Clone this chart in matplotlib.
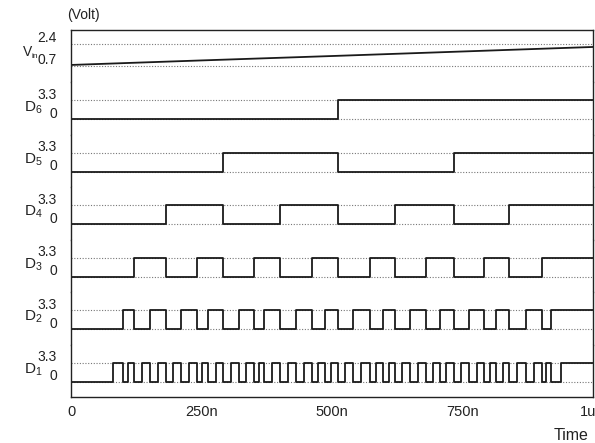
import numpy as np
import matplotlib
matplotlib.use('Agg')
import matplotlib.pyplot as plt
from matplotlib.transforms import ScaledTranslation

plt.rcParams['font.family'] = ['Liberation Sans', 'DejaVu Sans']
plt.rcParams['mathtext.fontset'] = 'custom'
plt.rcParams['mathtext.rm'] = 'Liberation Sans'
plt.rcParams['mathtext.it'] = 'Liberation Sans:italic'

# ramp input (time in ns, volts)
vin_t = [0, 250, 500, 750, 1000]
vin_v = [0.78, 1.13, 1.47, 1.82, 2.17]

# switching instants (ns) of each output bit
d6_edges = [511]
d5_edges = [292, 511, 733]
d4_edges = [182, 292, 400, 511, 621, 733, 840]
d3_edges = [121, 182, 241, 292, 351, 400, 462, 511, 573, 621, 680, 733,
            791, 840, 902]
d2_edges = [100, 121, 151, 182, 211, 241, 262, 292, 321, 351, 370, 400,
            431, 462, 486, 511, 540, 573, 597, 621, 650, 680, 706, 733,
            763, 791, 815, 840, 871, 902, 920]
d1_edges = [80, 100, 110, 121, 136, 151, 166, 182, 196, 211,
            226, 241, 251, 262, 277, 292, 306, 321, 336, 351,
            360, 370, 386, 400, 416, 431, 446, 462, 474, 486,
            498, 511, 525, 540, 556, 573, 585, 597, 609, 621,
            635, 650, 665, 680, 693, 706, 719, 733, 748, 763,
            777, 791, 803, 815, 827, 840, 855, 871, 887, 902,
            910, 920, 938]

row_names = [r'$\mathrm{D}_6$', r'$\mathrm{D}_5$', r'$\mathrm{D}_4$',
             r'$\mathrm{D}_3$', r'$\mathrm{D}_2$', r'$\mathrm{D}_1$']
digital = [d6_edges, d5_edges, d4_edges, d3_edges, d2_edges, d1_edges]

x_ticks = [0, 250, 500, 750, 1000]
x_labels = ['0', '250n', '500n', '750n', '1u']
HIGH = 3.3


def square(edges, hi=HIGH, t_end=1000):
    """Turn a list of toggle instants into a step trace starting low"""
    t, v = [0], [0]
    level = 0
    for e in edges:
        new = hi - level
        t += [e, e]
        v += [level, new]
        level = new
    t.append(t_end)
    v.append(level)
    return t, v


W, H = 595, 443
left, right = 71, 593
top, bottom = 30, 397
row_h = (bottom - top) / 7

fig = plt.figure(figsize=(W / 100, H / 100), dpi=100)
line_kw = dict(color='#1a1a1a', lw=1.3)
grid_kw = dict(color='#777777', lw=0.8, linestyle=(0, (1, 1.5)))
lift = ScaledTranslation(0, 7 / 100, fig.dpi_scale_trans)  # labels sit above their lines
txt = dict(color='#222222', ha='left', va='center')

for i in range(7):
    y0 = 1 - (top + (i + 1) * row_h) / H
    ax = fig.add_axes([left / W, y0, (right - left) / W, row_h / H])
    ax.set_xlim(0, 1000)

    if i == 0:
        ax.plot(vin_t, vin_v, **line_kw)
        ax.set_ylim(-0.57, 3.48)
        ax.set_yticks([0.7, 2.4])
        ax.set_yticklabels(['0.7', '2.4'])
    else:
        t, v = square(digital[i - 1])
        ax.plot(t, v, **line_kw)
        ax.set_ylim(-2.67, 6.43)
        ax.set_yticks([0, HIGH])
        ax.set_yticklabels(['0', '3.3'])
    for yv in ax.get_yticks():
        ax.axhline(yv, zorder=0, **grid_kw)

    ax.tick_params(axis='y', length=0, pad=10, labelsize=10, labelcolor='#222222')
    for lab in ax.get_yticklabels():
        lab.set_transform(lab.get_transform() + lift)
    for side in ['left', 'right', 'top', 'bottom']:
        ax.spines[side].set_color('#222222')
        ax.spines[side].set_linewidth(1.0)
    ax.spines['top'].set_visible(i == 0)
    ax.spines['bottom'].set_visible(i == 6)

    if i == 6:
        ax.set_xticks(x_ticks)
        ax.set_xticklabels(x_labels)
        ax.tick_params(axis='x', length=0, pad=6, labelsize=10.5, labelcolor='#222222')
        last = ax.get_xticklabels()[-1]
        last.set_transform(last.get_transform()
                           + ScaledTranslation(-5 / 100, 0, fig.dpi_scale_trans))
    else:
        ax.tick_params(axis='x', bottom=False, labelbottom=False)

    if i > 0:
        fig.text(24 / W, 1 - (top + i * row_h + 25) / H, row_names[i - 1],
                 fontsize=11, **txt)

# V_in label drawn in two pieces so the tiny subscript clears the 0.7 tick label
fig.text(23 / W, 1 - 52 / H, 'V', fontsize=10, **txt)
fig.text(31 / W, 1 - 56 / H, 'in', fontsize=6, **txt)
fig.text(67 / W, 1 - 15 / H, '(Volt)', fontsize=10, **txt)
fig.text(588 / W, 1 - 435 / H, 'Time', fontsize=11.5, color='#222222', ha='right', va='center')

fig.savefig('out.png', dpi=100)
